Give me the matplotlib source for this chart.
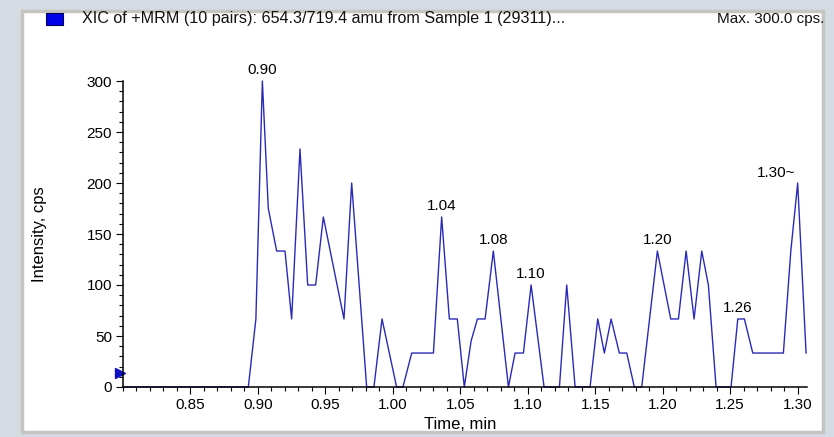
import matplotlib
matplotlib.use("Agg")
import matplotlib.pyplot as plt
from matplotlib.patches import Rectangle
from matplotlib.ticker import MultipleLocator, FormatStrFormatter

# XIC trace (time in min, intensity in cps)
times = [0.800, 0.8929, 0.8985, 0.9033, 0.9077, 0.9139, 0.9201, 0.9250, 0.9312, 0.9369,
         0.9428, 0.9485, 0.9638, 0.9695, 0.9806, 0.9860, 0.9920, 1.0028, 1.0075, 1.0140,
         1.0301, 1.0362, 1.0419, 1.0478, 1.0530, 1.0580, 1.0627, 1.0684, 1.0745, 1.0857,
         1.0906, 1.0968, 1.1025, 1.1121, 1.1235, 1.1289, 1.1351, 1.1462, 1.1519, 1.1568,
         1.1618, 1.1679, 1.1734, 1.1790, 1.1845, 1.1961, 1.2060, 1.2117, 1.2174, 1.2233,
         1.2290, 1.2339, 1.2396, 1.2507, 1.2557, 1.2606, 1.2668, 1.2895, 1.2950, 1.3001,
         1.3063]
intensity = [0, 0, 66.7, 300, 175, 133.3, 133.3, 66.7, 233.3, 100,
             100, 166.7, 66.7, 200, 0, 0, 66.7, 0, 0, 33.3,
             33.3, 166.7, 66.7, 66.7, 0, 45, 66.7, 66.7, 133.3, 0,
             33.3, 33.3, 100, 0, 0, 100, 0, 0, 66.7, 33.3,
             66.7, 33.3, 33.3, 0, 0, 133.3, 66.7, 66.7, 133.3, 66.7,
             133.3, 100, 0, 0, 66.7, 66.7, 33.3, 33.3, 133.3, 200,
             33.3]

# peak labels and the index of the point they sit on
peak_labels = ["0.90", "1.04", "1.08", "1.10", "1.20", "1.26", "1.30~"]
peak_idx = [3, 21, 28, 32, 45, 54, 59]

threshold = 14
title = "XIC of +MRM (10 pairs): 654.3/719.4 amu from Sample 1 (29311)..."
max_text = "Max. 300.0 cps."
xticks = [0.85, 0.90, 0.95, 1.00, 1.05, 1.10, 1.15, 1.20, 1.25, 1.30]

W, H = 834, 437
plt.rcParams['font.family'] = ['Liberation Sans', 'DejaVu Sans']

fig = plt.figure(figsize=(W / 100, H / 100), dpi=100)
fig.patch.set_facecolor('#d5dbe3')

# white panel with light border, kept behind the axes
fig.patches.append(Rectangle((22 / W, 1 - 432 / H), (823 - 22) / W, (432 - 11) / H,
                             transform=fig.transFigure, facecolor='white',
                             edgecolor='#c4c4c0', lw=2.5, zorder=-5))
# legend swatch
fig.patches.append(Rectangle((46 / W, 1 - 25 / H), 17 / W, 12 / H,
                             transform=fig.transFigure, facecolor='#0000e8',
                             edgecolor='#00005a', lw=0.8, zorder=1))
fig.text(82 / W, 1 - 19 / H, title, fontsize=11.6, va='center', ha='left', color='#111111')
fig.text(824 / W, 1 - 19 / H, max_text, fontsize=11, va='center', ha='right', color='#111111')

ax = fig.add_axes([123 / W, 1 - 387 / H, (807 - 123) / W, (387 - 81) / H])
ax.set_facecolor('none')
ax.plot(times, intensity, color='#2a2ab8', lw=1.0, clip_on=False, zorder=2)
ax.plot([0.7975], [threshold], marker='>', color='#1010c0', ms=7, clip_on=False)

for lab, i in zip(peak_labels, peak_idx):
    if lab.endswith('~'):
        ax.annotate(lab, (times[i], intensity[i]), xytext=(-2, 2),
                    textcoords='offset points', ha='right', va='bottom', fontsize=11)
    else:
        ax.annotate(lab, (times[i], intensity[i]), xytext=(0, 3),
                    textcoords='offset points', ha='center', va='bottom', fontsize=11)

ax.set_xlim(0.80, 1.307)
ax.set_ylim(0, 300)
ax.set_xticks(xticks)
ax.xaxis.set_major_formatter(FormatStrFormatter('%.2f'))
ax.xaxis.set_minor_locator(MultipleLocator(0.01))
ax.yaxis.set_major_locator(MultipleLocator(50))
ax.yaxis.set_minor_locator(MultipleLocator(10))
ax.tick_params(which='major', length=5, width=0.8, labelsize=11, pad=3)
ax.tick_params(which='minor', length=3, width=0.8)

for s in ['top', 'right']:
    ax.spines[s].set_visible(False)
for s in ['left', 'bottom']:
    ax.spines[s].set_linewidth(1.1)
    ax.spines[s].set_zorder(3)

ax.set_xlabel("Time, min", fontsize=12)
ax.set_ylabel("Intensity, cps", fontsize=12)
ax.xaxis.set_label_coords((460 - 123) / 684, -(417 - 387) / 306)
ax.yaxis.set_label_coords((47 - 123) / 684, 0.5)

fig.savefig("out.png", dpi=100, facecolor=fig.get_facecolor())
